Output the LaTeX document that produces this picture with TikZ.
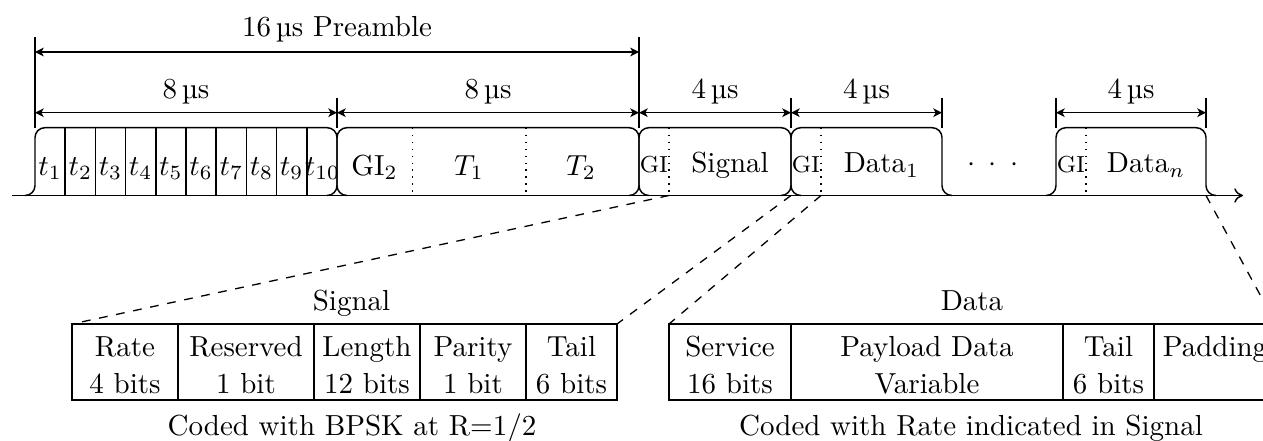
\documentclass[tikz,border=0pt]{standalone}
\usetikzlibrary{arrows.meta}
\begin{document}
\begin{tikzpicture}[x=0.3448pt,y=-0.3448pt,line width=0.5pt,
  dim/.style={{Stealth[length=3pt,width=3pt,inset=0.8pt]}-{Stealth[length=3pt,width=3pt,inset=0.8pt]}},
  axis/.style={-{To[length=3pt,width=5pt]}},
  pulse/.style={rounded corners=3.4pt},
  lbl/.style={anchor=base,inner sep=0pt},
  gilbl/.style={anchor=base,inner sep=0pt,font=\footnotesize},
  zoomline/.style={dashed,line width=0.45pt},
  sepline/.style={dotted,line width=0.4pt},
  cellline/.style={draw}
]
\useasboundingbox (0,0) rectangle (1263,441);
\clip (0,0) rectangle (1263,441);

% time axis
\coordinate (ax0) at (12,195.5);
\coordinate (ax1) at (1243,195.5);
\draw[axis] (ax0) -- (ax1);

% pulses
\foreach \a/\b in {35/337, 337/639, 639/791, 791/942, 1056/1206}
  \draw[pulse] (\a-10,195.5) -- (\a,195.5) -- (\a,127.7) -- (\b,127.7) -- (\b,195.5) -- (\b+10,195.5);

% short training cells
\foreach \k in {1,...,9}
  \draw (35+30.2*\k,127.7) -- (35+30.2*\k,195.5);
\foreach \k in {1,...,9}
  \node[lbl] (t\k) at (35+30.2*\k-15.1,175.5) {$t_{\k}$};
\node[lbl] (t10) at (322.5,175.5) {$t_{10}$};

% long training
\draw[sepline] (412.5,127.7) -- (412.5,195.5);
\draw[sepline] (526,127.7) -- (526,195.5);
\node[lbl] (gi2) at (374.5,175.5) {GI$_2$};
\node[lbl] (T1) at (469,175.5) {$T_1$};
\node[lbl] (T2) at (581,175.5) {$T_2$};

% signal
\draw[sepline] (669,127.7) -- (669,195.5);
\node[gilbl] (gis) at (654,172.7) {GI};
\node[lbl] (sig) at (730,172.7) {Signal};
% data 1
\draw[sepline] (821,127.7) -- (821,195.5);
\node[gilbl] (gid1) at (806,172.7) {GI};
\node[lbl] (d1) at (881.5,172.7) {Data$_1$};
% dots
\node[lbl] (dots) at (993,171) {$\cdot$\hspace{4.7pt}$\cdot$\hspace{4.7pt}$\cdot$};
% data n
\draw[sepline] (1086,127.7) -- (1086,195.5);
\node[gilbl] (gidn) at (1071,172.7) {GI};
\node[lbl] (dn) at (1146,172.7) {Data$_n$};

% extension lines
\draw (35,37) -- (35,127.7);
\draw (639,37) -- (639,127.7);
\foreach \x in {337,791,942,1056,1206}
  \draw (\x,98) -- (\x,127.7);

% dimension arrows
\coordinate (a0) at (35,52);   \coordinate (a16) at (639,52);
\draw[dim] (a0) -- (a16);
\node[lbl] (l16) at (337,37) {16\,\textmu s Preamble};

\coordinate (b0) at (35,112.7);  \coordinate (b8) at (337,112.7);
\coordinate (b16) at (639,112.7); \coordinate (b20) at (791,112.7);
\coordinate (b24) at (942,112.7); \coordinate (bn0) at (1056,112.7);
\coordinate (bn1) at (1206,112.7);
\draw[dim] (b0) -- (b8);
\draw[dim] (b8) -- (b16);
\draw[dim] (b16) -- (b20);
\draw[dim] (b20) -- (b24);
\draw[dim] (bn0) -- (bn1);
\node[lbl] at (186,98.7) {8\,\textmu s};
\node[lbl] at (488,98.7) {8\,\textmu s};
\node[lbl] at (715,98.7) {4\,\textmu s};
\node[lbl] at (866.5,98.7) {4\,\textmu s};
\node[lbl] at (1131,98.7) {4\,\textmu s};

% Signal table
\coordinate (st0) at (72,324); \coordinate (st1) at (617,324);
\draw (72,324) rectangle (617,400);
\foreach \x in {178,314,420,526}
  \draw (\x,324) -- (\x,400);
\node[lbl] at (351.5,310) {Signal};
\node[lbl] at (125,356) {Rate};      \node[lbl] at (125,393) {4 bits};
\node[lbl] at (246,356) {Reserved};  \node[lbl] at (246,393) {1 bit};
\node[lbl] at (367,356) {Length};    \node[lbl] at (367,393) {12 bits};
\node[lbl] at (473,356) {Parity};    \node[lbl] at (473,393) {1 bit};
\node[lbl] at (571.5,356) {Tail};    \node[lbl] at (571.5,393) {6 bits};
\node[lbl] at (352,435) {Coded with BPSK at R=1/2};

% Data table
\coordinate (dt0) at (669,324); \coordinate (dt1) at (1276,324);
\draw (669,324) rectangle (1276,400);
\foreach \x in {791,1063,1154}
  \draw (\x,324) -- (\x,400);
\node[lbl] at (972,310) {Data};
\node[lbl] at (730,356) {Service};       \node[lbl] at (730,393) {16 bits};
\node[lbl] at (927,356) {Payload Data};  \node[lbl] at (927,393) {Variable};
\node[lbl] at (1108.5,356) {Tail};       \node[lbl] at (1108.5,393) {6 bits};
\node[lbl] at (1215,356) {Padding};
\node[lbl] at (971,435) {Coded with Rate indicated in Signal};

% zoom lines
\coordinate (sgA) at (669,195.5); \coordinate (sgB) at (791,195.5);
\coordinate (dA) at (821,195.5);  \coordinate (dB) at (1206,195.5);
\draw[zoomline] (sgA) -- (st0);
\draw[zoomline] (sgB) -- (st1);
\draw[zoomline] (dA) -- (dt0);
\draw[zoomline] (dB) -- (dt1);
\end{tikzpicture}
\end{document}
